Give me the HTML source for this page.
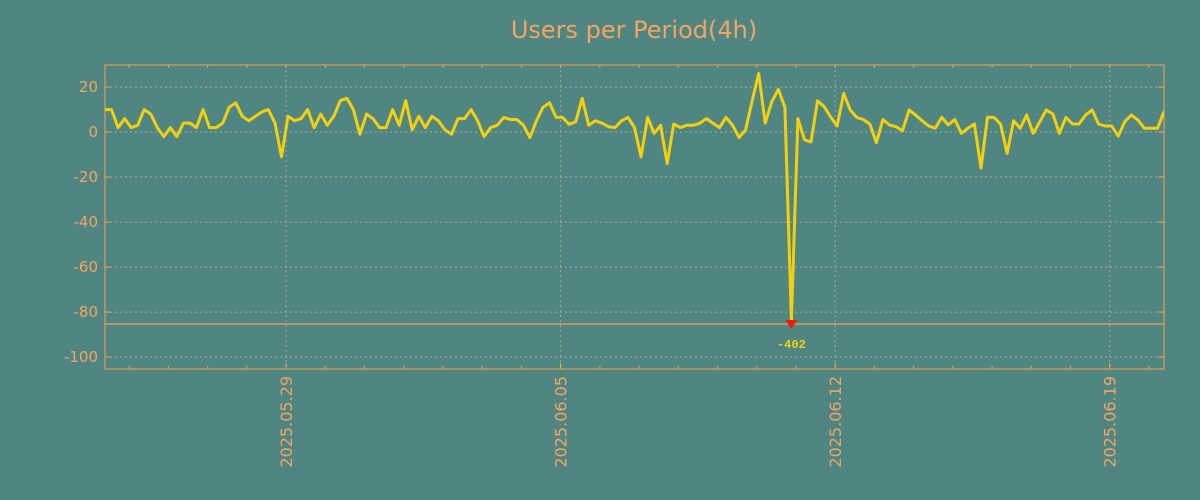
<!DOCTYPE html>
<html><head><meta charset="utf-8"><style>
body{margin:0;background:#4f8682;}
svg{display:block;font-family:"DejaVu Sans","Liberation Sans",sans-serif;}
</style></head><body>
<svg width="1200" height="500">
<rect width="1200" height="500" fill="#4f8682"/>
<text x="634" y="38" text-anchor="middle" font-size="24" fill="#f4a460">Users per Period(4h)</text>
<defs><clipPath id="pc"><rect x="105" y="65" width="1059" height="304"/></clipPath></defs>
<g id="grid"></g>
<g id="axes"></g>
<g id="series" clip-path="url(#pc)"></g>
<g id="anno"></g>
</svg>
<script>
const values=[10,10,2,6,2,3,10,8,2,-2,2,-2,4,4,2,10,2,2,4,11,13,7,5,7,9,10,4,-11,7,5,6,10,2,8,3,7,14,15,10,-1,8,6,2,2,10,3,14,1,7,2,7,5,1,-1,
6,6,10,5,-2,2,3,6.5,5.6,5.6,3,-2.4,5,11,13,6.5,6.5,3.4,4.6,15,3,5,4,2.4,2,5,6.5,2,-11,6.5,-0.6,3,-14,3.6,2,3,3,4,6,4,2,6.5,3,-2.4,1,14,26,4,13.5,19,11,
-402,6,-3.4,-4.4,
13.9,11.3,6.8,2.7,17.2,9.8,6.5,5.6,3.6,-4.7,5.6,3.2,2.4,0.6,9.8,7.6,5,2.7,1.7,6.5,3.2,5.6,-0.6,1.7,3.6,-16,6.5,6.5,3.6,-9.5,5,1.7,7.6,-0.6,4.6,9.8,8,-0.6,6.5,3.6,3.6,7.6,9.8,3.6,2.7,2.7,-1.8,4.6,7.6,5.3,1.7,1.7,1.7,9.1];
const yTicks=[20,0,-20,-40,-60,-80,-100];
const xTickLabels=["2025.05.29","2025.06.05","2025.06.12","2025.06.19"];
const xTickIndex=[27.7,69.7,111.7,153.7];
const yMin=-105.3,yMax=29.8,clipVal=-85.3;
const L=105,R=1164,T=65,B=369;
const NS="http://www.w3.org/2000/svg";
const xs=i=>L+(R-L)*i/(values.length-1);
const ys=v=>B-(v-yMin)/(yMax-yMin)*(B-T);
function mk(p,tag,at){const e=document.createElementNS(NS,tag);for(const k in at)e.setAttribute(k,at[k]);p.appendChild(e);return e;}
const grid=document.getElementById('grid'),axes=document.getElementById('axes'),ser=document.getElementById('series'),anno=document.getElementById('anno');
yTicks.forEach(v=>{const y=ys(v);
 const g=mk(grid,'line',{x1:L,x2:R,y1:y,y2:y,stroke:'#a9a9a0','stroke-dasharray':'2,3','stroke-width':1});
 
 
 const t=mk(axes,'text',{x:98,y:y+5,'text-anchor':'end','font-size':15,fill:'#f4a460'});t.textContent=v;
 
 
 mk(axes,'line',{x1:L,x2:L+6,y1:y,y2:y,stroke:'#f4a050'});
 mk(axes,'line',{x1:R-6,x2:R,y1:y,y2:y,stroke:'#f4a050'});
});
for(let i=3.7;i<values.length;i+=6){const x=xs(i);
 mk(axes,'line',{x1:x,x2:x,y1:B,y2:B-3,stroke:'#f4a050'});
 mk(axes,'line',{x1:x,x2:x,y1:T,y2:T+3,stroke:'#f4a050'});}
xTickLabels.forEach((s,k)=>{const x=xs(xTickIndex[k]);
 const g=mk(grid,'line',{x1:x,x2:x,y1:T,y2:B,stroke:'#a9a9a0','stroke-dasharray':'2,3'});
 
 
 mk(axes,'line',{x1:x,x2:x,y1:B,y2:B-6,stroke:'#f4a050'});
 const t=mk(axes,'text',{x:0,y:0,'text-anchor':'end','font-size':16,fill:'#f4a460',transform:`translate(${x+6},376) rotate(-90)`});t.textContent=s;
 
 
});
const fr=mk(axes,'rect',{x:L,y:T,width:R-L,height:B-T,fill:'none',stroke:'#f4a050','stroke-width':1});


const cl=mk(anno,'line',{x1:L,x2:R,y1:ys(clipVal),y2:ys(clipVal),stroke:'#f4a050','stroke-width':1.3});


const pts=values.map((v,i)=>xs(i).toFixed(1)+','+ys(Math.max(v,clipVal+1.5)).toFixed(1)).join(' ');
const pl=mk(ser,'polyline',{points:pts,fill:'none',stroke:'#f2cf10','stroke-width':3,'stroke-linejoin':'round'});


let mi=0;values.forEach((v,i)=>{if(v<values[mi])mi=i;});
const mx=xs(mi),my=ys(clipVal);
const tri=mk(anno,'polygon',{points:`${mx-6},${my-4} ${mx+6},${my-4} ${mx},${my+5}`,fill:'#ee1c10'});


const ml=mk(anno,'text',{x:mx,y:my+24,'text-anchor':'middle','font-size':12,'font-weight':'bold',fill:'#f2cf10','font-family':'Liberation Mono, monospace'});ml.textContent=values[mi];


</script>
</body></html>
